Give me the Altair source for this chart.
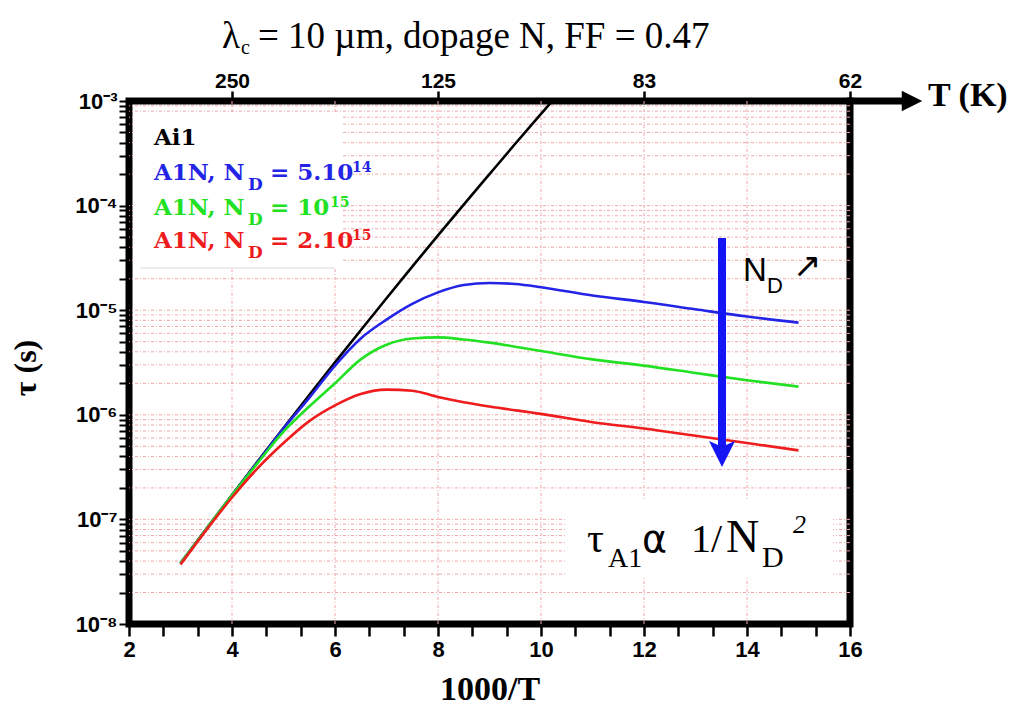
import altair as alt
import pandas as pd

# ---------------- data ----------------
x_black = [3, 3.5, 4, 4.5, 5, 5.5, 6, 6.5, 7, 7.5, 8, 8.5, 9, 9.5, 10, 10.2]
tau_black = [3.8e-8, 8.1e-8, 1.71e-7, 3.59e-7, 7.48e-7, 1.545e-6, 3.17e-6, 6.44e-6,
             1.30e-5, 2.61e-5, 5.19e-5, 1.023e-4, 2.0e-4, 3.9e-4, 7.54e-4, 9.77e-4]

x_blue = [3, 3.5, 4, 4.5, 5, 5.5, 6, 6.5, 7, 7.5, 8, 8.5, 9, 9.5, 10, 11, 12, 13, 14, 15]
tau_blue = [3.8e-8, 8.1e-8, 1.70e-7, 3.55e-7, 7.4e-7, 1.45e-6, 2.95e-6, 5.37e-6,
            8.13e-6, 1.15e-5, 1.48e-5, 1.74e-5, 1.82e-5, 1.78e-5, 1.66e-5,
            1.38e-5, 1.20e-5, 1.02e-5, 8.7e-6, 7.6e-6]

x_green = [3, 3.5, 4, 4.5, 5, 5.5, 6, 6.5, 7, 7.5, 8, 8.5, 9, 10, 11, 12, 13, 14, 15]
tau_green = [3.8e-8, 8.1e-8, 1.70e-7, 3.47e-7, 6.9e-7, 1.20e-6, 2.0e-6, 3.39e-6,
             4.68e-6, 5.37e-6, 5.5e-6, 5.25e-6, 4.9e-6, 4.07e-6, 3.39e-6,
             2.95e-6, 2.51e-6, 2.14e-6, 1.86e-6]

x_red = [3, 3.5, 4, 4.5, 5, 5.5, 6, 6.5, 7, 7.5, 8, 8.5, 9, 10, 11, 12, 13, 14, 15]
tau_red = [3.7e-8, 7.9e-8, 1.62e-7, 3.09e-7, 5.37e-7, 8.7e-7, 1.23e-6, 1.58e-6,
           1.74e-6, 1.70e-6, 1.48e-6, 1.32e-6, 1.20e-6, 1.02e-6, 8.5e-7,
           7.4e-7, 6.3e-7, 5.37e-7, 4.57e-7]

series_names = ["Ai1", "A1N 5e14", "A1N 1e15", "A1N 2e15"]
series_colors = ["#000000", "#2424e6", "#22e022", "#ee1c1c"]

bottom_tick_values = [2, 8/3, 10/3, 4, 14/3, 16/3, 6, 20/3, 22/3, 8, 26/3, 28/3, 10,
                      32/3, 34/3, 12, 38/3, 40/3, 14, 44/3, 46/3, 16]
bottom_label_values = [2, 4, 6, 8, 10, 12, 14, 16]
bottom_labels = ["2", "4", "6", "8", "10", "12", "14", "16"]

top_tick_values = [4, 8, 12, 16]
top_labels = ["250", "125", "83", "62"]

decades = [1e-3, 1e-4, 1e-5, 1e-6, 1e-7, 1e-8]
decade_labels = ["10\u207b\u00b3", "10\u207b\u2074", "10\u207b\u2075",
                 "10\u207b\u2076", "10\u207b\u2077", "10\u207b\u2078"]
y_minor = [m * 10.0 ** k for k in range(-8, -3) for m in range(1, 10)]
y_tick_values = y_minor + [1e-3]
hgrid_values = [v for v in y_minor if v > 1.5e-8]
vgrid_values = [4, 6, 8, 10, 12, 14]

# ---------------- styles ----------------
SERIF = "Liberation Serif, Times New Roman, serif"
DSERIF = "DejaVu Serif, serif"
SANS = "Liberation Sans, Arial, sans-serif"
NARROW = "Liberation Sans Narrow, Arial Narrow, Liberation Sans, sans-serif"
PINK = "#f0a6a6"

xscale = alt.Scale(domain=[2, 16], nice=False, zero=False)
yscale = alt.Scale(type="log", domain=[1e-8, 1e-3], nice=False)


def label_expr(values, labels):
    parts = [f"abs(datum.value / {v} - 1) < 0.001 ? '{l}'" for v, l in zip(values, labels)]
    return " : ".join(parts) + " : ''"


one = pd.DataFrame({"k": [0]})


def txt(s, x, y, size, color="black", font=SERIF, weight="normal", style="normal",
        align="left", baseline="alphabetic", angle=0):
    return alt.Chart(one).mark_text(
        text=s, align=align, baseline=baseline, font=font, fontSize=size,
        fontWeight=weight, fontStyle=style, color=color, angle=angle
    ).encode(x=alt.value(x), y=alt.value(y))


def box(x1, x2, y1, y2):
    return alt.Chart(one).mark_rect(color="white").encode(
        x=alt.value(x1), x2=alt.value(x2), y=alt.value(y1), y2=alt.value(y2))


# ---------------- axes carriers ----------------
y_axis_layer = alt.Chart(pd.DataFrame({"d": decades})).mark_point(opacity=0).encode(
    y=alt.Y("d:Q", scale=yscale, axis=alt.Axis(
        orient="left", values=y_tick_values,
        labelExpr=label_expr(decades, decade_labels),
        domain=False, grid=False, tickSize=10, tickWidth=2, tickColor="black",
        labelFont=NARROW, labelFontSize=22, labelFontWeight="bold", labelColor="black",
        labelPadding=2, title=None, labelFlush=False)),
)

top_axis = alt.Chart(pd.DataFrame({"p": top_tick_values})).mark_point(opacity=0).encode(
    x=alt.X("p:Q", scale=xscale, axis=alt.Axis(
        orient="top", values=top_tick_values, labelExpr=label_expr(top_tick_values, top_labels),
        domain=False, grid=False, tickSize=10, tickWidth=2.5, tickColor="black",
        labelFont=NARROW, labelFontSize=21, labelFontWeight="bold", labelColor="black",
        labelPadding=0, title=None, labelFlush=False)),
)

bottom_axis = alt.Chart(pd.DataFrame({"b": bottom_label_values})).mark_point(opacity=0).encode(
    x=alt.X("b:Q", scale=xscale, axis=alt.Axis(
        orient="bottom", values=bottom_tick_values,
        labelExpr=label_expr(bottom_label_values, bottom_labels),
        domain=False, grid=False, tickSize=12, tickWidth=2.5, tickColor="black",
        labelFont=NARROW, labelFontSize=22, labelFontWeight="bold", labelColor="black",
        labelPadding=3, title=None, labelFlush=False)),
)

# ---------------- grid ----------------
hgrid = alt.Chart(pd.DataFrame({"v": hgrid_values})).mark_rule(
    color=PINK, strokeWidth=1, strokeDash=[3, 2, 1, 2]
).encode(y=alt.Y("v:Q", scale=yscale, axis=None))

vgrid = alt.Chart(pd.DataFrame({"v": vgrid_values})).mark_rule(
    color=PINK, strokeWidth=1, strokeDash=[3, 2, 1, 2]
).encode(x=alt.X("v:Q", scale=xscale, axis=None))

# ---------------- curves ----------------
series_x = [x_black, x_blue, x_green, x_red]
series_tau = [tau_black, tau_blue, tau_green, tau_red]
lines = []
for name, xs, ts, col in zip(series_names, series_x, series_tau, series_colors):
    d = pd.DataFrame({"x": xs, "tau": ts, "s": name})
    lines.append(alt.Chart(d).mark_line(
        color=col, strokeWidth=2.6, interpolate="monotone", clip=True
    ).encode(x=alt.X("x:Q", scale=xscale, axis=None),
             y=alt.Y("tau:Q", scale=yscale, axis=None)))

# ---------------- annotations ----------------
ARROW_BLUE = "#1414f5"
shaft = alt.Chart(one).mark_rule(color=ARROW_BLUE, strokeWidth=8).encode(
    x=alt.value(593), y=alt.value(137), y2=alt.value(348))
head = alt.Chart(one).mark_point(
    shape="M0,1 L-1,-1 L0,-0.55 L1,-1 Z", filled=True, size=676, color=ARROW_BLUE,
    opacity=1, strokeWidth=0).encode(x=alt.value(593), y=alt.value(353))

top_line = alt.Chart(one).mark_rule(color="black", strokeWidth=7).encode(
    x=alt.value(718), x2=alt.value(778), y=alt.value(0))
top_head = alt.Chart(one).mark_point(
    shape="M1,0 L-1,-1 L-1,1 Z", filled=True, size=420, color="black",
    opacity=1, strokeWidth=0).encode(x=alt.value(783), y=alt.value(0))

legend_edge = alt.Chart(one).mark_rule(color="#d9d9d9", strokeWidth=1).encode(
    x=alt.value(11), x2=alt.value(206), y=alt.value(167))

texts = [
    # title
    txt("\u03bb", 93, -53, 37),
    txt("c", 112, -47, 20),
    txt("= 10 \u00b5m, dopage N, FF = 0.47", 129, -53, 37),
    # T (K)
    txt("T (K)", 799, 5, 34, weight="bold"),
    # axis titles
    txt("1000/T", 361, 589, 34, weight="bold", align="center", baseline="middle"),
    txt("\u03c4 (s)", -103, 267, 32, weight="bold", align="center", baseline="middle", angle=270),
    # legend
    txt("Ai1", 25, 44, 23, font=DSERIF, weight="bold"),
    txt("A1N, N", 25, 79, 23, color=series_colors[1], font=DSERIF, weight="bold"),
    txt("D", 119, 89, 17, color=series_colors[1], font=DSERIF, weight="bold"),
    txt("= 5.10", 141, 79, 23, color=series_colors[1], font=DSERIF, weight="bold"),
    txt("14", 223, 71, 14, color=series_colors[1], font=DSERIF, weight="bold"),
    txt("A1N, N", 25, 114, 23, color=series_colors[2], font=DSERIF, weight="bold"),
    txt("D", 119, 124, 17, color=series_colors[2], font=DSERIF, weight="bold"),
    txt("= 10", 141, 114, 23, color=series_colors[2], font=DSERIF, weight="bold"),
    txt("15", 201, 106, 14, color=series_colors[2], font=DSERIF, weight="bold"),
    txt("A1N, N", 25, 147, 23, color=series_colors[3], font=DSERIF, weight="bold"),
    txt("D", 119, 157, 17, color=series_colors[3], font=DSERIF, weight="bold"),
    txt("= 2.10", 141, 147, 23, color=series_colors[3], font=DSERIF, weight="bold"),
    txt("15", 223, 139, 14, color=series_colors[3], font=DSERIF, weight="bold"),
    # N_D arrow label
    txt("N", 614, 180, 33, font=SANS),
    txt("D", 638, 192, 22, font=SANS),
    txt("\u2197", 664, 176, 34, font="DejaVu Sans, sans-serif"),
    # tau_A1 alpha 1/N_D^2
    txt("\u03c4", 458, 451, 42),
    txt("A1", 479, 466, 28),
    txt("\u03b1", 513, 451, 38, font="DejaVu Sans, sans-serif"),
    txt("1/", 562, 451, 40),
    txt("N", 597, 451, 46),
    txt("D", 633, 466, 30),
    txt("2", 664, 432, 26, style="italic"),
]

layers = [y_axis_layer, top_axis, bottom_axis, hgrid, vgrid,
          box(4, 212, 11, 167),
          box(437, 704, 398, 475), legend_edge] + lines + [shaft, head, top_line, top_head] + texts

chart = alt.layer(*layers).resolve_axis(
    x="independent", y="independent"
).properties(
    width=721, height=523,
    padding={"left": 121, "top": 93, "right": 157, "bottom": 82},
    autosize=alt.AutoSizeParams(type="none"),
).configure(background="white").configure_view(stroke="black", strokeWidth=7)

chart.save("out.html", embed_options={"renderer": "svg", "actions": False})
